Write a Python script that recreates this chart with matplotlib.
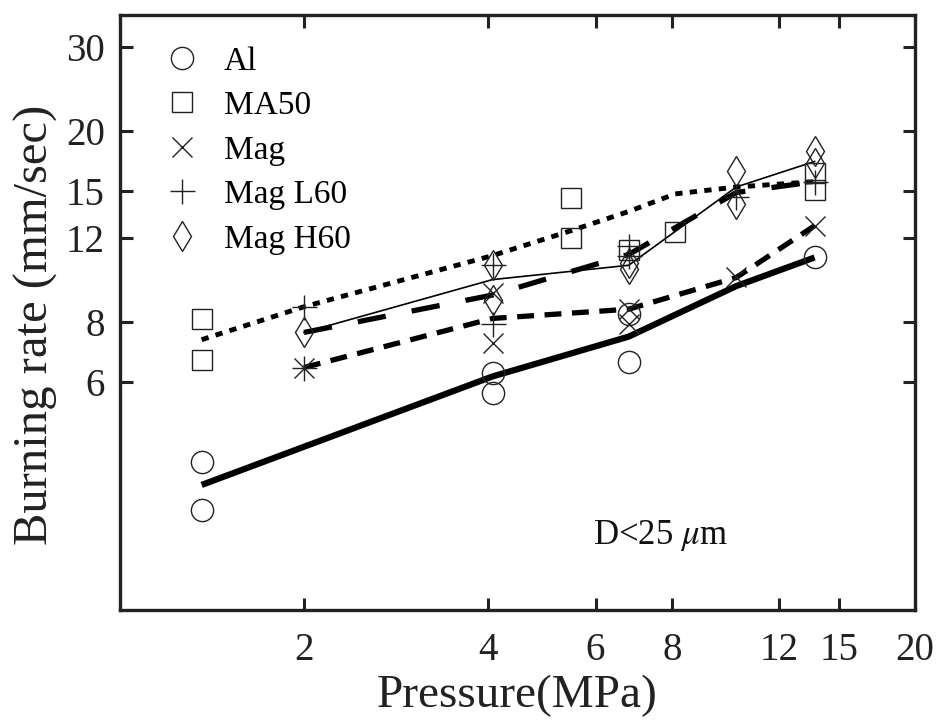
import numpy as np
import matplotlib
matplotlib.use('Agg')
import matplotlib.pyplot as plt
from matplotlib.ticker import FixedLocator, FixedFormatter, NullLocator

plt.rcParams['font.family'] = ['Liberation Serif', 'DejaVu Serif']
plt.rcParams['mathtext.fontset'] = 'stix'

# measured points (pressure MPa, burning rate mm/s)
al_p = [1.36, 1.36, 4.07, 4.07, 6.8, 6.8, 13.7]
al_r = [4.08, 3.24, 6.26, 5.69, 8.3, 6.6, 10.9]

ma50_p = [1.36, 1.36, 5.47, 5.47, 6.8, 8.1, 13.7, 13.7]
ma50_r = [8.09, 6.67, 14.5, 12.0, 11.3, 12.3, 16.4, 15.1]

mag_p = [2.0, 4.07, 4.07, 6.8, 6.8, 10.2, 13.7]
mag_r = [6.42, 9.2, 7.24, 8.5, 7.9, 9.9, 12.7]

magl_p = [2.0, 2.0, 4.07, 4.07, 6.8, 6.8, 10.2, 13.7]
magl_r = [8.57, 6.42, 10.5, 7.9, 11.5, 11.0, 14.6, 15.7]

magh_p = [2.0, 4.07, 4.07, 6.8, 6.8, 10.2, 10.2, 13.7, 13.7]
magh_r = [7.6, 10.5, 8.9, 10.6, 10.3, 16.5, 14.1, 18.2, 17.2]

# fitted curves
al_fit_p = [1.36, 4.07, 6.8, 10.2, 13.7]
al_fit_r = [3.65, 6.15, 7.45, 9.5, 10.9]

ma50_fit_p = [1.36, 2.0, 4.07, 5.47, 6.8, 8.1, 10.2, 13.7]
ma50_fit_r = [7.34, 8.6, 11.0, 12.4, 13.6, 14.8, 15.3, 15.7]

mag_fit_p = [2.0, 4.07, 6.8, 10.2, 13.7]
mag_fit_r = [6.42, 8.13, 8.5, 9.9, 12.7]

magl_fit_p = [2.0, 4.07, 6.8, 10.2, 13.7]
magl_fit_r = [7.6, 9.1, 11.06, 14.9, 15.7]

magh_fit_p = [2.0, 4.07, 6.8, 10.2, 13.7]
magh_fit_r = [7.6, 9.8, 10.5, 15.3, 17.3]

xticks = [2, 4, 6, 8, 12, 15, 20]
yticks = [6, 8, 12, 15, 20, 30]

fig = plt.figure(figsize=(9.4, 7.23), dpi=100)
ax = fig.add_axes([0.1277, 0.1563, 0.8457, 0.823])
ax.set_xscale('log')
ax.set_yscale('log')

# fit lines
ax.plot(al_fit_p, al_fit_r, color='black', lw=4.5, solid_capstyle='butt')
ax.plot(ma50_fit_p, ma50_fit_r, color='black', lw=3.5, ls=(0, (1.5, 1.5)), dash_capstyle='butt')
ax.plot(mag_fit_p, mag_fit_r, color='black', lw=3.8, ls=(0, (3.2, 2.0)), dash_capstyle='butt')
ax.plot(magl_fit_p, magl_fit_r, color='black', lw=3.8, ls=(0, (5.4, 5.0)), dash_capstyle='butt')
ax.plot(magh_fit_p, magh_fit_r, color='black', lw=1.2)

mk = dict(ls='none', mfc='none', mec='#222222', mew=1.0)
ax.plot(al_p, al_r, marker='o', ms=16, label='Al', **mk)
ax.plot(ma50_p, ma50_r, marker='s', ms=14, label='MA50', **mk)
ax.plot(mag_p, mag_r, marker='x', ms=15, label='Mag', **mk)
ax.plot(magl_p, magl_r, marker='+', ms=18, label='Mag L60', **mk)
ax.plot(magh_p, magh_r, marker='d', ms=15, label='Mag H60', **mk)

ax.set_xlim(1, 20)
ax.set_ylim(2, 35)
ax.xaxis.set_major_locator(FixedLocator(xticks))
ax.xaxis.set_major_formatter(FixedFormatter([str(v) for v in xticks]))
ax.yaxis.set_major_locator(FixedLocator(yticks))
ax.yaxis.set_major_formatter(FixedFormatter([str(v) for v in yticks]))
ax.xaxis.set_minor_locator(NullLocator())
ax.yaxis.set_minor_locator(NullLocator())
ax.tick_params(which='major', direction='in', top=True, right=True,
               length=9, width=2.2, labelsize=28, colors='#222222')
ax.tick_params(axis='x', pad=16)
ax.tick_params(axis='y', pad=11)
for s in ax.spines.values():
    s.set_linewidth(2.4)
    s.set_color('#222222')

ax.set_xlabel('Pressure(MPa)', fontsize=34, color='#222222', labelpad=4)
ax.set_ylabel('Burning rate (mm/sec)', fontsize=35, color='#222222')
ax.yaxis.set_label_coords(-0.078, 0.48)

ax.text(0.68, 0.126, r'D<25 $\mu$m', transform=ax.transAxes, fontsize=25,
        ha='center', va='center', color='#111111')

ax.legend(loc='upper left', bbox_to_anchor=(0.04, 0.97), frameon=False,
          fontsize=24, handlelength=1.0, handletextpad=0.75, labelspacing=0.42,
          borderaxespad=0)

fig.savefig('out.png', dpi=100)
